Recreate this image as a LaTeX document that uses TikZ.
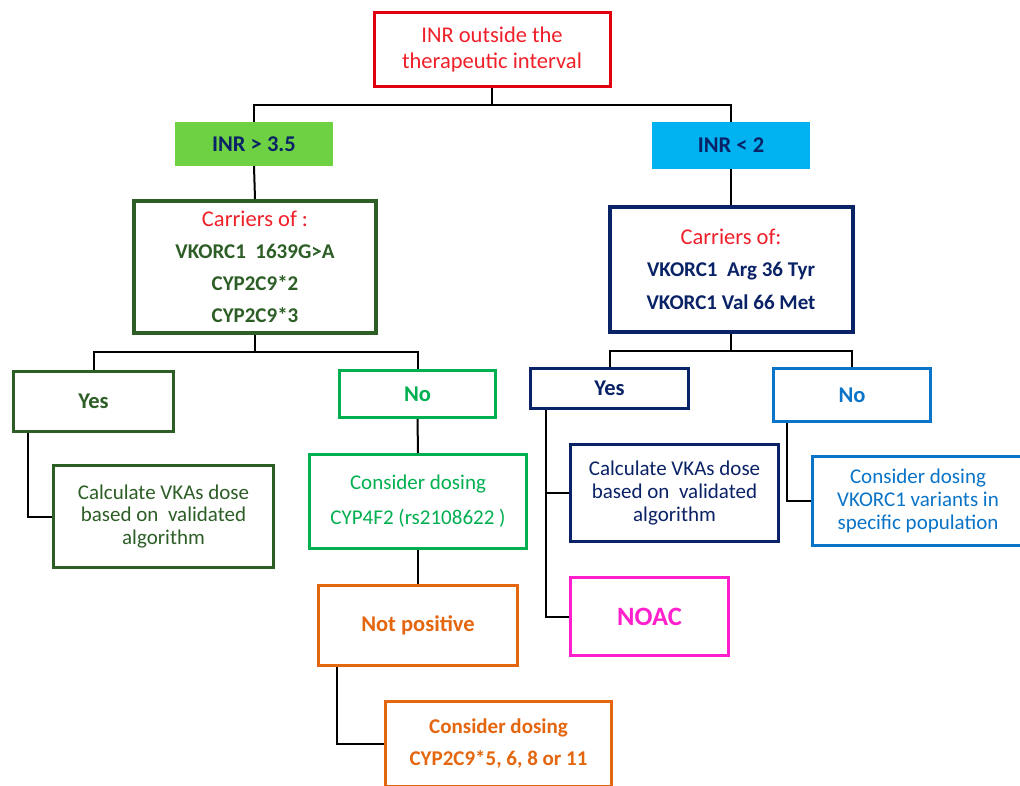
\documentclass[tikz,border=0pt]{standalone}
\usepackage{fontspec}
\setmainfont{Carlito}
\definecolor{cred}{HTML}{E00010}
\definecolor{tred}{HTML}{F0202A}
\definecolor{dgreen}{HTML}{2D5E26}
\definecolor{lgreen}{HTML}{00B050}
\definecolor{navy}{HTML}{0A2266}
\definecolor{cblue}{HTML}{0A74C8}
\definecolor{corange}{HTML}{E4660E}
\definecolor{cmag}{HTML}{FF1FCC}
\definecolor{fgreen}{HTML}{6DD143}
\definecolor{fcyan}{HTML}{00B2F0}
\begin{document}
\begin{tikzpicture}[x=1pt,y=-1pt,
  box/.style={draw,line width=3pt,rectangle,inner sep=0pt,align=center},
  conn/.style={draw=black,line width=2pt}]
\useasboundingbox[fill=white] (0,0) rectangle (1020,785);
% top
\node[box,draw=cred,text=tred,minimum width=236,minimum height=74,font=\fontsize{22.5}{26}\selectfont] (top) at (492,49) {INR outside the\\therapeutic interval};
\node[fill=fgreen,text=navy,minimum width=158,minimum height=44,inner sep=0pt,font=\fontsize{22.5}{26}\selectfont\bfseries] (g35) at (254,144) {INR > 3.5};
\node[fill=fcyan,text=navy,minimum width=158,minimum height=47,inner sep=0pt,font=\fontsize{22.5}{26}\selectfont\bfseries] (g2) at (731,145.5) {INR < 2};
% carriers
\node[box,draw=dgreen,line width=4pt,text=dgreen,minimum width=242,minimum height=132,font=\fontsize{21}{32}\selectfont\bfseries] (lc) at (255,267)
 {{\mdseries\fontsize{22.5}{32}\selectfont\color{tred}Carriers of :}\\VKORC1\ \ 1639G>A\\CYP2C9*2\\CYP2C9*3};
\node[box,draw=navy,line width=4pt,text=navy,minimum width=243,minimum height=125,font=\fontsize{21}{32.5}\selectfont\bfseries] (rc) at (731,269)
 {{\mdseries\fontsize{22.5}{32.5}\selectfont\color{tred}Carriers of:}\\VKORC1\ \ Arg 36 Tyr\\VKORC1 Val 66 Met};
% left branch
\node[box,draw=dgreen,text=dgreen,minimum width=160,minimum height=60,font=\fontsize{22.5}{26}\selectfont\bfseries] (lyes) at (93.5,401.5) {Yes};
\node[box,draw=dgreen,text=dgreen,minimum width=220,minimum height=102,font=\fontsize{21}{22.5}\selectfont] (lcalc) at (163.5,516.5) {Calculate VKAs dose\\based on\ \ validated\\algorithm};
\node[box,draw=lgreen,text=lgreen,minimum width=156,minimum height=47,font=\fontsize{22.5}{26}\selectfont\bfseries] (lno) at (417.5,394) {No};
\node[box,draw=lgreen,text=lgreen,minimum width=217,minimum height=94,font=\fontsize{21}{35}\selectfont] (gcons) at (418,501.5) {Consider dosing\\CYP4F2 (rs2108622 )};
\node[box,draw=corange,text=corange,minimum width=199,minimum height=80,font=\fontsize{22.5}{26}\selectfont\bfseries] (notpos) at (418,625.5) {Not positive};
\node[box,draw=corange,text=corange,minimum width=226,minimum height=85,font=\fontsize{21}{32}\selectfont\bfseries] (ocons) at (498.5,744) {Consider dosing\\CYP2C9*5, 6, 8 or 11};
% right branch
\node[box,draw=navy,text=navy,minimum width=158,minimum height=40,font=\fontsize{22.5}{26}\selectfont\bfseries] (ryes) at (609.5,388.5) {Yes};
\node[box,draw=navy,text=navy,minimum width=208,minimum height=97,font=\fontsize{21}{23}\selectfont] (rcalc) at (674.5,493) {Calculate VKAs dose\\based on\ \ validated\\algorithm};
\node[box,draw=cmag,text=cmag,minimum width=158,minimum height=78,font=\fontsize{26.5}{30}\selectfont\bfseries] (noac) at (649.5,616.5) {NOAC};
\node[box,draw=cblue,text=cblue,minimum width=157,minimum height=53,font=\fontsize{22.5}{26}\selectfont\bfseries] (rno) at (852,395) {No};
\node[box,draw=cblue,text=cblue,minimum width=211,minimum height=89,font=\fontsize{21}{23}\selectfont] (rcons) at (918,501) {Consider dosing\\VKORC1 variants in\\specific population};
% connectors
\coordinate (j1) at ([yshift=-17]top.south);
\draw[conn] (top.south) -- (j1);
\draw[conn] (g35.north) |- (j1) -| (g2.north);
\draw[conn] (g35.south) -- (lc.north);
\draw[conn] (g2.south) -- (rc.north);
\coordinate (j2) at ([yshift=-17]lc.south);
\draw[conn] (lc.south) -- (j2);
\draw[conn] (lyes.north) |- (j2) -| (lno.north);
\draw[conn] ([xshift=16]lyes.south west) |- (lcalc.west);
\draw[conn] (lno.south) -- (gcons.north);
\draw[conn] (gcons.south) -- (notpos.north);
\draw[conn] ([xshift=20]notpos.south west) |- (ocons.west);
\coordinate (j3) at ([yshift=-17]rc.south);
\draw[conn] (rc.south) -- (j3);
\draw[conn] (ryes.north) |- (j3) -| (rno.north);
\coordinate (ry) at ([xshift=17]ryes.south west);
\draw[conn] (ry) |- (noac.west);
\draw[conn] (rcalc.west) -- (rcalc.west -| ry);
\draw[conn] ([xshift=15]rno.south west) |- (rcons.west);
\end{tikzpicture}
\end{document}
